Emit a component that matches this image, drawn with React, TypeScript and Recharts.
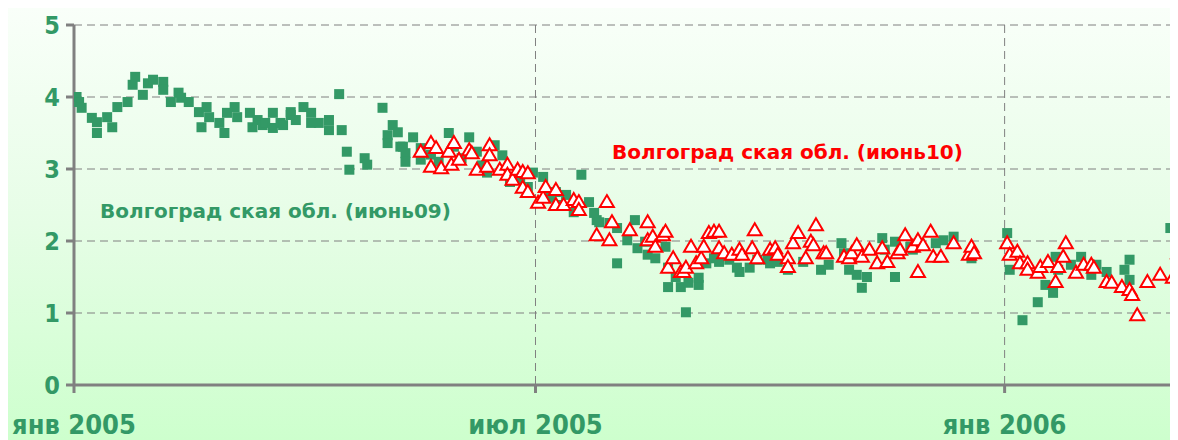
import React from 'react'
import { ScatterChart, Scatter, XAxis, YAxis, CartesianGrid } from 'recharts'

// x = days since 2005-01-01, y = value
const greenJune09: Array<[number, number]> = [
  [1, 4.0], [2, 3.93], [3, 3.85], [7, 3.71], [9, 3.65], [9, 3.5], [13, 3.72], [15, 3.58],
  [17, 3.86], [21, 3.93], [23, 4.17], [24, 4.28], [27, 4.03], [29, 4.19], [31, 4.24],
  [35, 4.21], [35, 4.1], [38, 3.93], [41, 4.06], [42, 3.99], [45, 3.93], [49, 3.79],
  [50, 3.58], [52, 3.86], [53, 3.72], [57, 3.64], [59, 3.5], [60, 3.78], [63, 3.86],
  [64, 3.72], [69, 3.78], [70, 3.58], [72, 3.68], [74, 3.61], [75, 3.64], [78, 3.78],
  [78, 3.57], [81, 3.64], [82, 3.61], [85, 3.75], [85, 3.79], [87, 3.68], [90, 3.86],
  [93, 3.78], [93, 3.64], [96, 3.64], [100, 3.68], [100, 3.54], [104, 4.04], [105, 3.54],
  [107, 3.24], [108, 2.99], [114, 3.15], [115, 3.06], [121, 3.85], [123, 3.47], [123, 3.36],
  [125, 3.61], [127, 3.51], [128, 3.31], [129, 3.31], [130, 3.22], [130, 3.1], [133, 3.44],
  [136, 3.13], [136, 3.29], [140, 3.2], [143, 3.1], [147, 3.5], [149, 3.31], [152, 3.15],
  [155, 3.44], [158, 3.24], [160, 3.05], [162, 2.95], [165, 3.33], [168, 3.19], [171, 2.82],
  [175, 2.85], [178, 2.75], [180, 2.95], [184, 2.89], [187, 2.6], [189, 2.68], [190, 2.5],
  [193, 2.64], [196, 2.4], [199, 2.92], [202, 2.54], [204, 2.39], [205, 2.29], [206, 2.26],
  [210, 2.25], [213, 2.18], [213, 1.69], [217, 2.01], [220, 2.29], [221, 1.9], [224, 1.99],
  [225, 1.81], [228, 1.76], [232, 1.92], [233, 1.63], [233, 1.36], [236, 1.5], [238, 1.36],
  [240, 1.01], [241, 1.42], [245, 1.39], [245, 1.49], [248, 1.69], [251, 1.76], [253, 1.71],
  [257, 1.74], [260, 1.63], [261, 1.57], [265, 1.63], [268, 1.74], [272, 1.74], [273, 1.69],
  [276, 1.71], [280, 1.6], [286, 1.71], [293, 1.6], [296, 1.67], [301, 1.97], [302, 1.83],
  [304, 1.6], [307, 1.53], [309, 1.35], [311, 1.5], [317, 2.04], [318, 1.88], [322, 1.99],
  [322, 1.5], [328, 1.92], [329, 1.88], [338, 1.97], [341, 2.01], [345, 2.06], [352, 1.76],
  [366, 2.11], [367, 1.6], [372, 0.9], [378, 1.15], [381, 1.39], [384, 1.28], [385, 1.78],
  [386, 1.6], [391, 1.67], [395, 1.78], [399, 1.53], [401, 1.67], [405, 1.57], [412, 1.6],
  [414, 1.74], [414, 1.46], [430, 2.18], [432, 1.71],
]

const redJune10: Array<[number, number]> = [
  [136, 3.24], [140, 3.36], [140, 3.03], [142, 3.29], [144, 3.01], [147, 3.24], [148, 3.06],
  [149, 3.36], [151, 3.13], [155, 3.26], [156, 3.22], [158, 2.99], [162, 3.03], [163, 3.33],
  [163, 3.19], [167, 2.99], [170, 3.06], [170, 2.92], [172, 2.85], [174, 2.99], [176, 2.96],
  [178, 2.94], [176, 2.74], [178, 2.68], [182, 2.53], [184, 2.6], [185, 2.75], [189, 2.71],
  [189, 2.5], [192, 2.5], [196, 2.57], [198, 2.54], [198, 2.43], [209, 2.54], [211, 2.26],
  [205, 2.08], [210, 2.01], [218, 2.15], [225, 2.26], [225, 2.01], [227, 2.06], [228, 1.92],
  [231, 2.08], [232, 2.13], [233, 1.63], [235, 1.76], [238, 1.57], [239, 1.57], [240, 1.63],
  [242, 1.92], [244, 1.69], [246, 1.76], [247, 1.92], [249, 2.11], [251, 2.13], [253, 2.13],
  [253, 1.9], [255, 1.83], [258, 1.81], [261, 1.88], [262, 1.81], [266, 1.9], [267, 2.15],
  [268, 1.76], [273, 1.88], [275, 1.9], [276, 1.81], [280, 1.76], [280, 1.64], [282, 1.97],
  [284, 2.11], [287, 1.76], [289, 1.99], [290, 1.94], [291, 2.22], [294, 1.83], [295, 1.83],
  [302, 1.78], [304, 1.76], [305, 1.83], [307, 1.94], [309, 1.78], [312, 1.88], [315, 1.69],
  [317, 1.9], [319, 1.71], [323, 1.83], [324, 1.88], [326, 2.08], [329, 1.92], [331, 1.57],
  [331, 2.01], [333, 1.94], [336, 2.13], [337, 1.78], [340, 1.78], [345, 1.97], [351, 1.81],
  [352, 1.92], [353, 1.83], [366, 1.97], [367, 1.81], [370, 1.85], [371, 1.69], [374, 1.69],
  [374, 1.6], [378, 1.56], [379, 1.64], [382, 1.71], [385, 1.43], [386, 1.64], [388, 1.78],
  [389, 1.97], [393, 1.56], [396, 1.67], [399, 1.67], [400, 1.63], [405, 1.43], [407, 1.42],
  [411, 1.36], [414, 1.32], [415, 1.25], [417, 0.97], [421, 1.43], [426, 1.53], [431, 1.49],
  [433, 1.83],
]

const xTicks = [0, 181, 365]
const xTickLabels: Record<number, string> = { 0: 'янв 2005', 181: 'июл 2005', 365: 'янв 2006' }
const yTicks = [0, 1, 2, 3, 4, 5]

const labelGreen = 'Волгоград ская обл. (июнь09)'
const labelRed = 'Волгоград ская обл. (июнь10)'

const GREEN = '#339966'
const RED = '#ff0000'
const GREY = '#808080'
const FONT = "'DejaVu Sans', sans-serif"
const TICK_FONT = "'DejaVu Sans Condensed', 'DejaVu Sans', sans-serif"

const toPoints = (rows: Array<[number, number]>) => rows.map(([day, value]) => ({ day, value }))

const Square = (props: any) => {
  const { cx, cy } = props
  if (cx == null || cy == null) return null
  return <rect x={cx - 5} y={cy - 5} width={10} height={10} fill={GREEN} />
}

const Triangle = (props: any) => {
  const { cx, cy } = props
  if (cx == null || cy == null) return null
  const pts = `${cx},${cy - 7} ${cx + 7},${cy + 5} ${cx - 7},${cy + 5}`
  return <polygon points={pts} fill="#ffffff" stroke={RED} strokeWidth={2} />
}

export default function App() {
  const yTickStyle = { fontSize: 25, fontWeight: 700, fill: GREEN, fontFamily: TICK_FONT }
  const xTickStyle = { fontSize: 27, fontWeight: 700, fill: GREEN, fontFamily: TICK_FONT }

  return (
    <div
      style={{
        position: 'relative',
        width: 1170,
        height: 432,
        background: 'linear-gradient(to bottom, #f9fff9 0%, #e6fde6 50%, #cdffcd 100%)',
        fontFamily: FONT,
      }}
    >
      <ScatterChart width={1170} height={432} margin={{ top: 17, right: 0, bottom: 0, left: 0 }}>
        <CartesianGrid stroke={GREY} strokeDasharray="8 5" />
        <XAxis
          type="number"
          dataKey="day"
          domain={[0, 433]}
          ticks={xTicks}
          tickFormatter={(v: number) => xTickLabels[v] ?? ''}
          allowDataOverflow
          stroke={GREY}
          strokeWidth={3}
          tickSize={8}
          tickMargin={22}
          height={55}
          tick={xTickStyle}
        />
        <YAxis
          type="number"
          dataKey="value"
          domain={[0, 5]}
          ticks={yTicks}
          stroke={GREY}
          strokeWidth={3}
          tickSize={8}
          tickMargin={6}
          width={66}
          tick={yTickStyle}
        />
        <Scatter data={toPoints(greenJune09)} shape={Square} isAnimationActive={false} />
        <Scatter data={toPoints(redJune10)} shape={Triangle} isAnimationActive={false} />
      </ScatterChart>
      <div
        style={{
          position: 'absolute',
          left: 92,
          top: 191,
          fontSize: 20,
          fontWeight: 700,
          color: GREEN,
          whiteSpace: 'nowrap',
        }}
      >
        {labelGreen}
      </div>
      <div
        style={{
          position: 'absolute',
          left: 604,
          top: 132,
          fontSize: 20,
          fontWeight: 700,
          color: RED,
          whiteSpace: 'nowrap',
        }}
      >
        {labelRed}
      </div>
    </div>
  )
}
